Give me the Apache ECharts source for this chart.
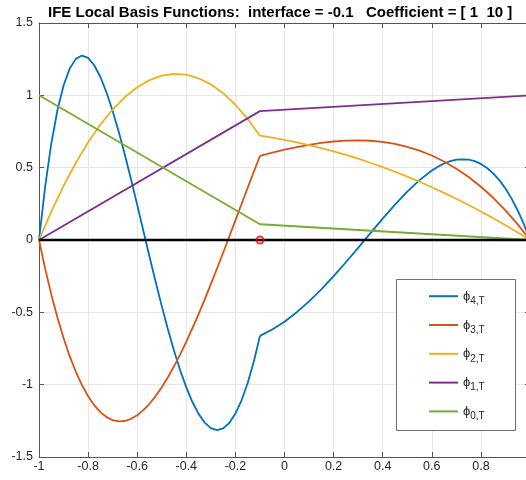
<!DOCTYPE html>
<html><head><meta charset="utf-8">
<script src="https://cdn.jsdelivr.net/npm/echarts@6/dist/echarts.min.js"></script>
<style>html,body{margin:0;padding:0;background:#fff}#c{width:526px;height:480px}</style>
</head><body><div id="c"></div>
<script>
// ---- data ----
var titleText = 'IFE Local Basis Functions:  interface = -0.1   Coefficient = [ 1  10 ]';
var legendNames = ['\u03D54,T', '\u03D53,T', '\u03D52,T', '\u03D51,T', '\u03D50,T'];
var interfaceX = -0.1;

// fine sampling left of the interface (steep quartic / cubic pieces)
var xLeftFine = [-1, -0.975, -0.95, -0.925, -0.9, -0.875, -0.85, -0.825, -0.8, -0.775, -0.75, -0.725, -0.7, -0.675, -0.65, -0.625, -0.6, -0.575, -0.55, -0.525, -0.5, -0.475, -0.45, -0.425, -0.4, -0.375, -0.35, -0.325, -0.3, -0.275, -0.25, -0.225, -0.2, -0.175, -0.15, -0.125, -0.1];
var xLeft = [-1, -0.95, -0.9, -0.85, -0.8, -0.75, -0.7, -0.65, -0.6, -0.55, -0.5, -0.45, -0.4, -0.35, -0.3, -0.25, -0.2, -0.15, -0.1];
var xRight = [-0.1, -0.05, 0, 0.05, 0.1, 0.15, 0.2, 0.25, 0.3, 0.35, 0.4, 0.45, 0.5, 0.55, 0.6, 0.65, 0.7, 0.75, 0.8, 0.85, 0.9, 0.95, 1];
var x4Right = [-0.1, -0.05, 0, 0.05, 0.1, 0.15, 0.2, 0.25, 0.3, 0.35, 0.4, 0.45, 0.5, 0.55, 0.6, 0.625, 0.65, 0.675, 0.7, 0.725, 0.75, 0.775, 0.8, 0.825, 0.85, 0.875, 0.9, 0.925, 0.95, 0.975, 1];

var phi4Left = [0, 0.369, 0.666, 0.897, 1.068, 1.185, 1.252, 1.275, 1.259, 1.208, 1.127, 1.020, 0.892, 0.746, 0.587, 0.418, 0.243, 0.064, -0.114, -0.288, -0.457, -0.617, -0.765, -0.900, -1.019, -1.120, -1.202, -1.262, -1.300, -1.314, -1.302, -1.265, -1.200, -1.108, -0.988, -0.840, -0.663];
var phi4Right = [-0.663, -0.619, -0.565, -0.499, -0.424, -0.341, -0.250, -0.154, -0.054, 0.047, 0.148, 0.244, 0.334, 0.414, 0.480, 0.507, 0.529, 0.545, 0.555, 0.558, 0.555, 0.545, 0.526, 0.498, 0.461, 0.414, 0.356, 0.286, 0.204, 0.109, 0];

var phi3Left = [0, -0.198, -0.376, -0.536, -0.678, -0.803, -0.911, -1.003, -1.080, -1.142, -1.190, -1.224, -1.245, -1.254, -1.251, -1.236, -1.211, -1.176, -1.132, -1.079, -1.018, -0.949, -0.873, -0.791, -0.703, -0.609, -0.512, -0.410, -0.305, -0.197, -0.088, 0.024, 0.136, 0.249, 0.361, 0.472, 0.582];
var phi3Right = [0.582, 0.604, 0.624, 0.642, 0.658, 0.671, 0.681, 0.687, 0.689, 0.686, 0.678, 0.664, 0.644, 0.618, 0.584, 0.543, 0.493, 0.435, 0.368, 0.292, 0.205, 0.108, 0];

var phi2Left = [0, 0.196, 0.374, 0.534, 0.675, 0.798, 0.902, 0.988, 1.056, 1.105, 1.136, 1.149, 1.143, 1.118, 1.076, 1.015, 0.935, 0.837, 0.721];
var phi2Right = [0.721, 0.708, 0.692, 0.675, 0.656, 0.635, 0.613, 0.588, 0.562, 0.534, 0.504, 0.472, 0.438, 0.403, 0.365, 0.326, 0.285, 0.242, 0.197, 0.151, 0.102, 0.052, 0];

var xKnots = [-1, -0.1, 1];
var phi1 = [0, 0.891, 1];
var phi0 = [1, 0.109, 0];

var xZero = [-1, 1];
var yZero = [0, 0];

// ---- chart ----
var FONT = '"Liberation Sans", Arial, Helvetica, sans-serif';
var colors = ['#0072BD', '#D95319', '#EDB120', '#7E2F8E', '#77AC30'];
var axisCol = '#262626';
var lineCol = '#555555';

function pairs(xs, ys) { return xs.map(function (x, i) { return [x, ys[i]]; }); }
function curve(name, color, data) {
  return {
    name: name, type: 'line', data: data, smooth: false,
    symbol: 'none', showSymbol: false,
    lineStyle: { color: color, width: 1.8, join: 'round' }, itemStyle: { color: color },
    emphasis: { disabled: true }, silent: true, z: 3
  };
}

var series = [
  curve(legendNames[0], colors[0], pairs(xLeftFine, phi4Left)),
  curve(legendNames[0], colors[0], pairs(x4Right, phi4Right)),
  curve(legendNames[1], colors[1], pairs(xLeftFine, phi3Left)),
  curve(legendNames[1], colors[1], pairs(xRight, phi3Right)),
  curve(legendNames[2], colors[2], pairs(xLeft, phi2Left)),
  curve(legendNames[2], colors[2], pairs(xRight, phi2Right)),
  curve(legendNames[3], colors[3], pairs(xKnots, phi1)),
  curve(legendNames[4], colors[4], pairs(xKnots, phi0)),
  {
    name: 'zero', type: 'line', data: pairs(xZero, yZero), symbol: 'none', silent: true,
    lineStyle: { color: '#000', width: 2.6 }, z: 4
  },
  {
    name: 'interface', type: 'scatter', data: [[interfaceX, 0]], symbol: 'circle', symbolSize: 7, silent: true,
    itemStyle: { color: 'rgba(0,0,0,0)', borderColor: '#ff0000', borderWidth: 2 }, z: 5
  }
];

function xAxisDef(pos, labels) {
  return {
    type: 'value', min: -1, max: 1, interval: 0.2, position: pos,
    axisLine: { show: true, onZero: false, lineStyle: { color: lineCol, width: 1 } },
    axisTick: { show: true, inside: true, length: 5, lineStyle: { color: lineCol } },
    axisLabel: {
      show: labels, margin: 3, color: axisCol, fontSize: 12.5, fontFamily: FONT,
      formatter: function (v) { return Math.abs(v - 1) < 1e-9 ? '' : String(+v.toFixed(1)); }
    },
    splitLine: { show: labels, lineStyle: { color: '#e6e6e6', width: 1 } }
  };
}
function yAxisDef(pos, labels) {
  return {
    type: 'value', min: -1.5, max: 1.5, interval: 0.5, position: pos,
    axisLine: { show: true, onZero: false, lineStyle: { color: lineCol, width: 1 } },
    axisTick: { show: true, inside: true, length: 5, lineStyle: { color: lineCol } },
    axisLabel: {
      show: labels, margin: 6, color: axisCol, fontSize: 12.5, fontFamily: FONT,
      formatter: function (v) { return String(+v.toFixed(1)); }
    },
    splitLine: { show: labels, lineStyle: { color: '#e6e6e6', width: 1 } }
  };
}

var chart = echarts.init(document.getElementById('c'), null, { renderer: 'canvas' });
chart.setOption({
  animation: false,
  backgroundColor: '#ffffff',
  title: {
    text: titleText, left: 48, top: 5.5, padding: 0,
    textStyle: { fontSize: 15, fontWeight: 'bold', color: '#000', fontFamily: FONT }
  },
  grid: { left: 39, top: 23, width: 491, height: 434, containLabel: false, outerBoundsMode: 'none' },
  xAxis: [xAxisDef('bottom', true), xAxisDef('top', false)],
  yAxis: [yAxisDef('left', true), yAxisDef('right', false)],
  graphic: [{
    type: 'rect', z: 8, silent: true,
    shape: { x: 396.5, y: 279.5, width: 119, height: 151 },
    style: { fill: '#ffffff', stroke: '#707070', lineWidth: 1 }
  }],
  legend: {
    data: legendNames, orient: 'vertical', left: 429, top: 289.7, padding: 0, z: 10,
    icon: 'rect', itemWidth: 29, itemHeight: 2, itemGap: 12.3, selectedMode: false,
    formatter: function (name) { return '{p|\u03D5}{s|' + name.slice(1) + '}'; },
    textStyle: {
      color: axisCol, fontFamily: FONT,
      rich: {
        p: { fontSize: 13, lineHeight: 20, color: axisCol, fontFamily: FONT },
        s: { fontSize: 10, lineHeight: 6, verticalAlign: 'bottom', color: axisCol, fontFamily: FONT }
      }
    }
  },
  series: series
});
</script></body></html>
